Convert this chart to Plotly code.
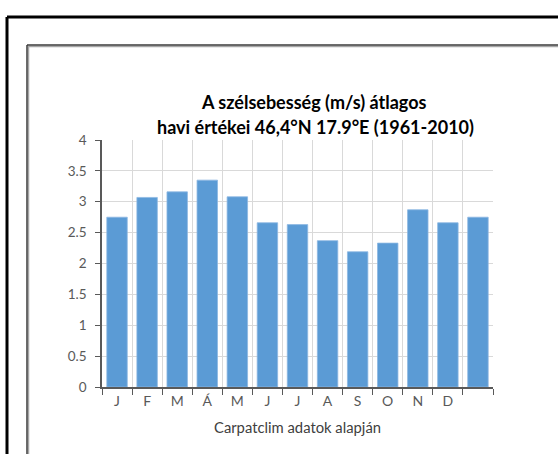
import plotly.graph_objects as go

months = ["J", "F", "M", "Á", "M", "J", "J", "A", "S", "O", "N", "D", ""]
wind_speed = [2.75, 3.07, 3.16, 3.35, 3.08, 2.66, 2.63, 2.37, 2.19, 2.33, 2.87, 2.66, 2.75]
y_ticks = [0, 0.5, 1, 1.5, 2, 2.5, 3, 3.5, 4]
title_lines = ["A szélsebesség (m/s) átlagos", "havi értékei 46,4°N 17.9°E (1961-2010)"]
x_title = "Carpatclim adatok alapján"

W, H = 558, 454
L, R, T, B = 102, 493, 140, 387  # plot area in pixels
pw, ph = R - L, B - T

def px(x):
    return (x - L) / pw

def py(y):
    return (B - y) / ph

positions = list(range(len(wind_speed)))

fig = go.Figure()
fig.add_trace(go.Bar(
    x=positions, y=wind_speed,
    marker=dict(color="#5B9BD5", line=dict(color="#8DB8E2", width=0.8)),
    showlegend=False, hoverinfo="y",
))

font_family = "Lato, 'Open Sans', sans-serif"
axis_col = "#595959"

fig.update_layout(
    width=W, height=H,
    margin=dict(l=L, r=W - R, t=T, b=H - B, pad=0),
    paper_bgcolor="white", plot_bgcolor="white",
    bargap=0.32,
    font=dict(family=font_family, color=axis_col, size=12),
    xaxis=dict(
        range=[-0.5, len(wind_speed) - 0.5],
        tickvals=positions[:12], ticktext=months[:12],
        ticks="", showgrid=False, zeroline=False,
        showline=True, linecolor=axis_col, linewidth=1.5,
        tickfont=dict(size=14, color=axis_col),
        minor=dict(tick0=-0.5, dtick=1, ticks="outside", ticklen=6,
                   tickcolor=axis_col, tickwidth=1.2,
                   showgrid=True, gridcolor="#D9D9D9", gridwidth=1),
        fixedrange=True,
    ),
    yaxis=dict(
        range=[0, 4], tickvals=y_ticks, ticktext=[f"{v:g}" for v in y_ticks],
        ticks="outside", ticklen=5, tickcolor=axis_col, tickwidth=1.2,
        ticklabelstandoff=6,
        showline=True, linecolor=axis_col, linewidth=1.5,
        showgrid=True, gridcolor="#D9D9D9", gridwidth=1, zeroline=False,
        tickfont=dict(size=13.5, color=axis_col),
        fixedrange=True,
    ),
    annotations=[
        dict(text=f"<b>{title_lines[0]}</b>", xref="paper", yref="paper",
             x=px(313), y=py(102), xanchor="center", yanchor="middle", showarrow=False,
             font=dict(family=font_family, size=18, color="#000000")),
        dict(text=f"<b>{title_lines[1]}</b>", xref="paper", yref="paper",
             x=px(315), y=py(127), xanchor="center", yanchor="middle", showarrow=False,
             font=dict(family=font_family, size=18, color="#000000")),
        dict(text=x_title, xref="paper", yref="paper",
             x=px(297), y=py(427), xanchor="center", yanchor="middle",
             showarrow=False, font=dict(family=font_family, size=14.8, color="#404040")),
    ],
    shapes=[
        # outer frame
        dict(type="line", xref="paper", yref="paper", x0=px(7), x1=px(W + 5), y0=py(17), y1=py(17),
             line=dict(color="#000000", width=3)),
        dict(type="line", xref="paper", yref="paper", x0=px(7), x1=px(7), y0=py(17), y1=py(H + 5),
             line=dict(color="#000000", width=3)),
        # inner frame shadow
        dict(type="line", xref="paper", yref="paper", x0=px(28), x1=px(W + 5), y0=py(46.5), y1=py(46.5),
             line=dict(color="#A6A6A6", width=1.5)),
        dict(type="line", xref="paper", yref="paper", x0=px(28.5), x1=px(28.5), y0=py(46), y1=py(H + 5),
             line=dict(color="#A6A6A6", width=1.5)),
        # inner frame
        dict(type="line", xref="paper", yref="paper", x0=px(27), x1=px(W + 5), y0=py(45), y1=py(45),
             line=dict(color="#3A3A3A", width=1.5)),
        dict(type="line", xref="paper", yref="paper", x0=px(27), x1=px(27), y0=py(45), y1=py(H + 5),
             line=dict(color="#3A3A3A", width=1.5)),
    ],
)

fig.write_html("out.html", config={"displayModeBar": False},
               post_script="document.body.style.margin='0';document.body.style.overflow='hidden';")
